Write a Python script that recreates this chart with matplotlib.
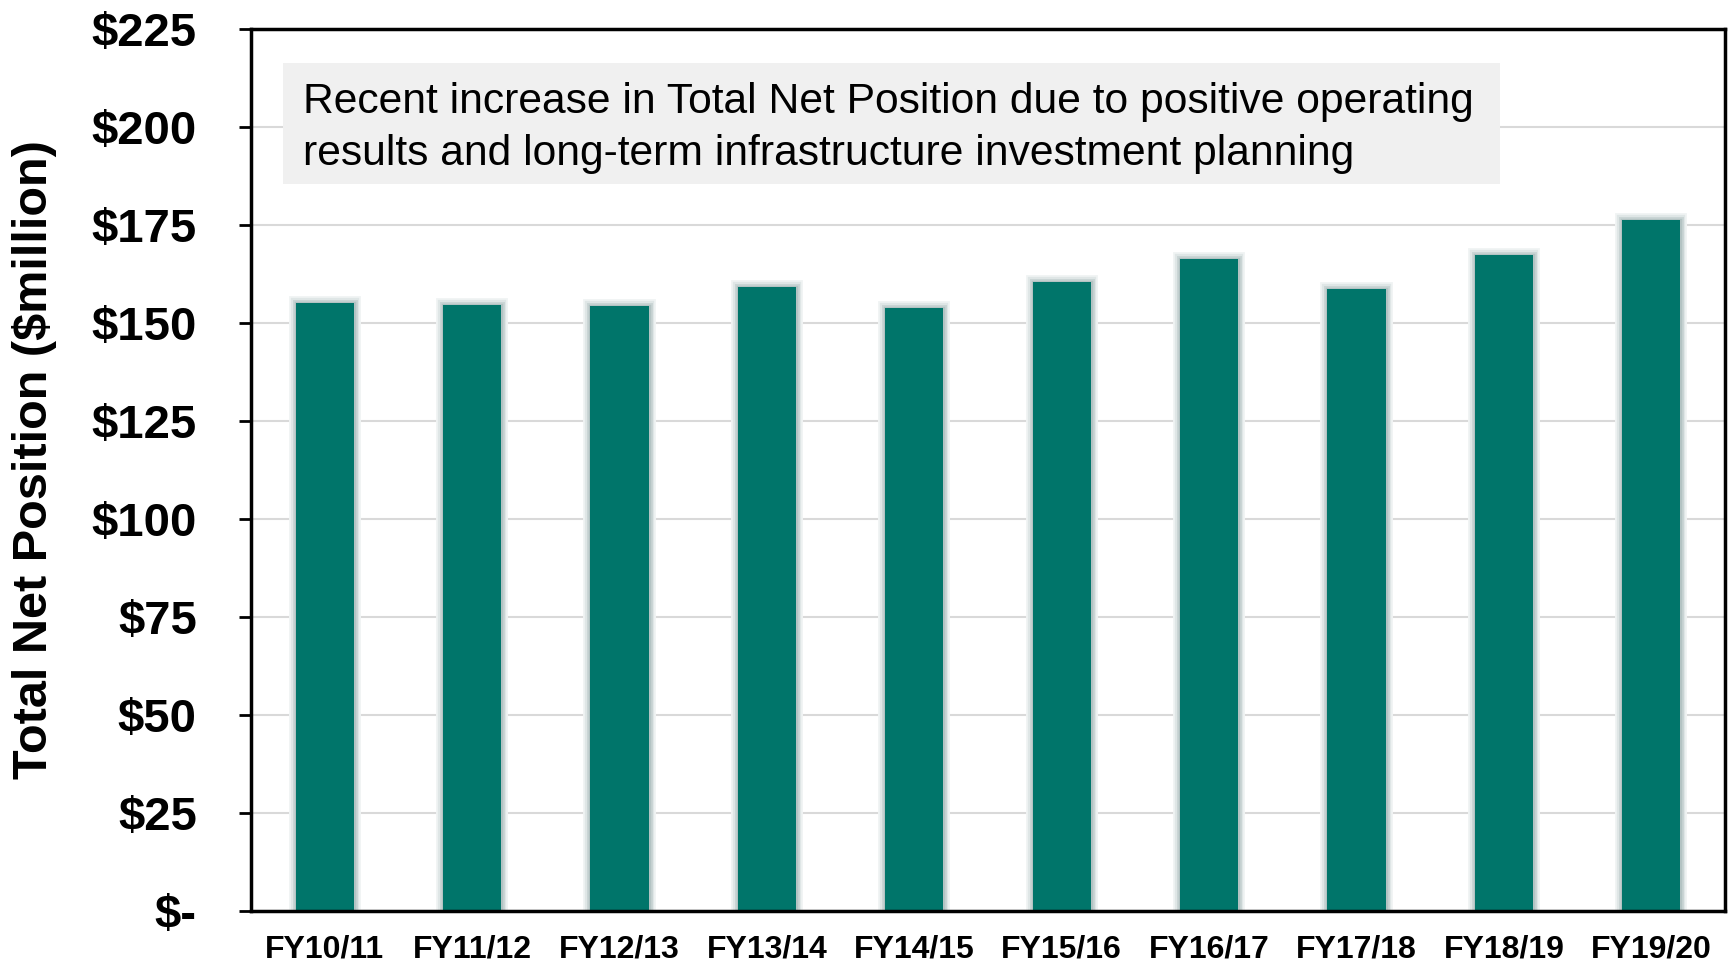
import matplotlib
matplotlib.use("Agg")
import matplotlib.pyplot as plt
import matplotlib.patheffects as pe
from matplotlib.patches import Rectangle

plt.rcParams['font.family'] = ['Liberation Sans', 'DejaVu Sans']

categories = ["FY10/11", "FY11/12", "FY12/13", "FY13/14", "FY14/15",
              "FY15/16", "FY16/17", "FY17/18", "FY18/19", "FY19/20"]
values = [155.1, 154.6, 154.4, 159.2, 153.7, 160.5, 166.2, 158.8, 167.4, 176.3]
ytick_values = [0, 25, 50, 75, 100, 125, 150, 175, 200, 225]
ytick_labels = ["$-", "$25", "$50", "$75", "$100", "$125", "$150", "$175", "$200", "$225"]
note = ("Recent increase in Total Net Position due to positive operating\n"
        "results and long-term infrastructure investment planning")

W, H = 1729, 963
fig = plt.figure(figsize=(W / 100, H / 100), dpi=100)
ax = fig.add_axes([251 / W, 1 - 911 / H, (1725 - 251) / W, (911 - 29) / H])

x = list(range(len(categories)))
bars = ax.bar(x, values, width=0.395, color="#00756A", zorder=2)
for b in bars:
    b.set_path_effects([
        pe.Stroke(linewidth=10, foreground="#f1f4f4"),
        pe.Stroke(linewidth=7.5, foreground="#dfe6e6"),
        pe.Stroke(linewidth=5, foreground="#cad5d5"),
        pe.Stroke(linewidth=2.5, foreground="#b3c3c3"),
        pe.Normal(),
    ])

ax.set_xlim(-0.5, len(categories) - 0.5)
ax.set_ylim(0, 225)
ax.set_yticks(ytick_values)
ax.set_yticklabels(ytick_labels, fontsize=34, fontweight="bold")
ax.set_xticks(x)
ax.set_xticklabels(categories, fontsize=23, fontweight="bold")
ax.tick_params(axis="y", length=9, width=2, pad=30)
ax.tick_params(axis="x", length=0, pad=17)
ax.set_axisbelow(True)
ax.yaxis.grid(True, color="#d9d9d9", linewidth=1.5)
for s in ax.spines.values():
    s.set_linewidth(2.5)
    s.set_color("black")

fig.text(35 / W, 1 - 460 / H, "Total Net Position ($million)", fontsize=35,
         fontweight="bold", rotation=90, ha="center", va="center")

fig.patches.append(Rectangle((283 / W, 1 - 184 / H), (1500 - 283) / W, (184 - 63) / H,
                             transform=fig.transFigure, facecolor="#f0f0f0",
                             edgecolor="none", zorder=5))
fig.text(303 / W, 1 - 128 / H, note, fontsize=30.7, va="center", ha="left",
         linespacing=1.39, zorder=6)

fig.savefig("out.png", dpi=100)
